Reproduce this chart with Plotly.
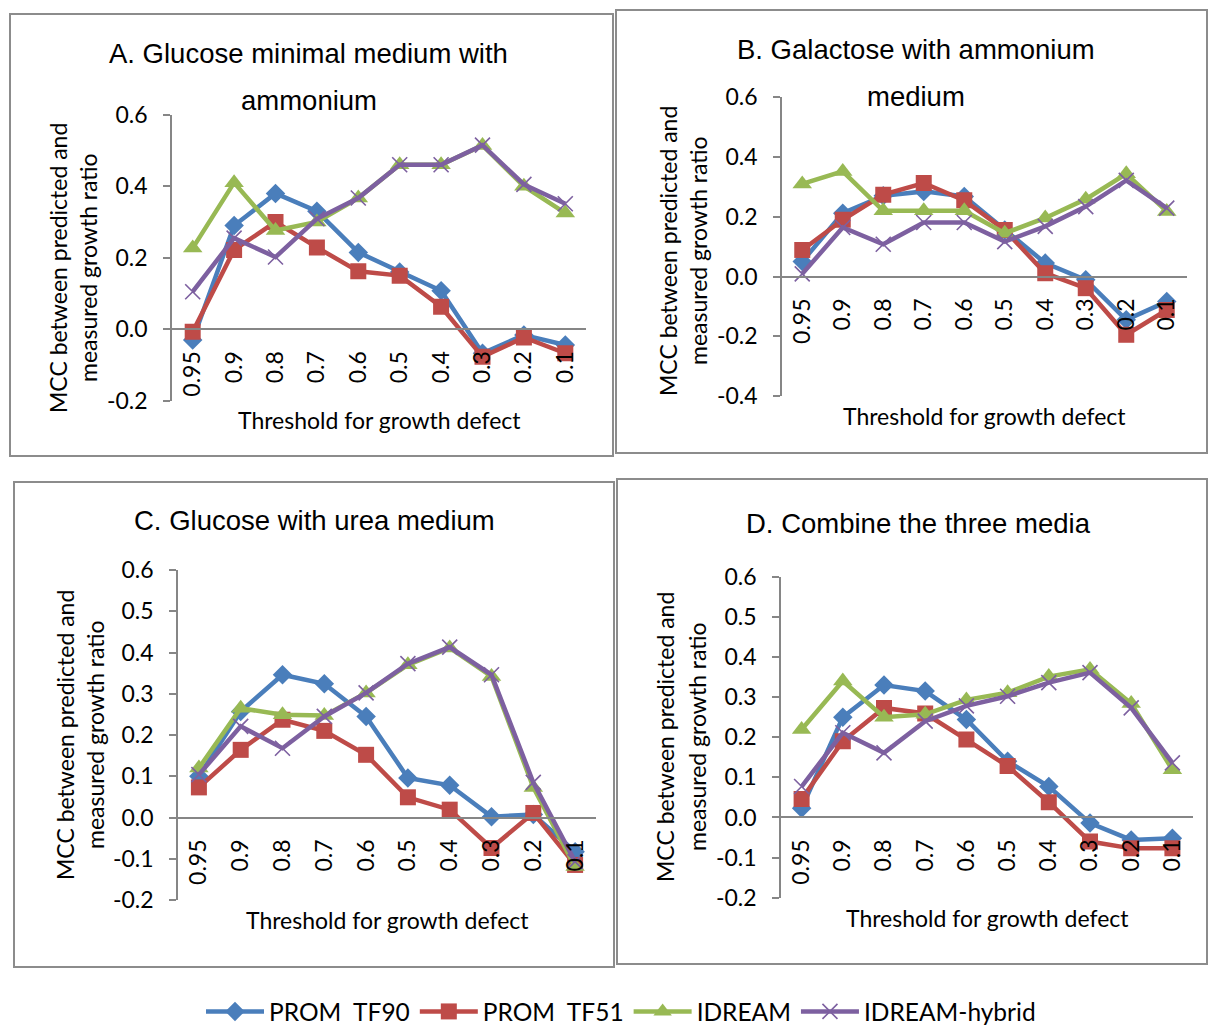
import plotly.graph_objects as go

W, H = 1208, 1025

thresholds = ["0.95", "0.9", "0.8", "0.7", "0.6", "0.5", "0.4", "0.3", "0.2", "0.1"]
series_names = ["PROM  TF90", "PROM  TF51", "IDREAM", "IDREAM-hybrid"]

# A. Glucose minimal medium with ammonium
a_prom90 = [-0.03, 0.29, 0.38, 0.33, 0.215, 0.16, 0.108, -0.067, -0.016, -0.044]
a_prom51 = [-0.007, 0.222, 0.30, 0.229, 0.162, 0.15, 0.063, -0.077, -0.023, -0.067]
a_idream = [0.227, 0.41, 0.276, 0.30, 0.367, 0.46, 0.46, 0.514, 0.40, 0.325]
a_hybrid = [0.105, 0.255, 0.202, 0.309, 0.367, 0.46, 0.46, 0.515, 0.405, 0.351]

# B. Galactose with ammonium medium
b_prom90 = [0.05, 0.212, 0.27, 0.285, 0.268, 0.156, 0.045, -0.011, -0.145, -0.084]
b_prom51 = [0.089, 0.19, 0.274, 0.313, 0.255, 0.156, 0.011, -0.039, -0.195, -0.112]
b_idream = [0.31, 0.352, 0.22, 0.22, 0.22, 0.145, 0.196, 0.259, 0.344, 0.218]
b_hybrid = [0.009, 0.164, 0.108, 0.181, 0.181, 0.117, 0.168, 0.234, 0.322, 0.229]

# C. Glucose with urea medium
c_prom90 = [0.10, 0.257, 0.346, 0.324, 0.245, 0.096, 0.078, 0.002, 0.007, -0.083]
c_prom51 = [0.073, 0.164, 0.237, 0.21, 0.152, 0.049, 0.019, -0.074, 0.011, -0.115]
c_idream = [0.12, 0.265, 0.249, 0.247, 0.302, 0.37, 0.411, 0.342, 0.073, -0.119]
c_hybrid = [0.104, 0.221, 0.168, 0.245, 0.302, 0.373, 0.413, 0.346, 0.085, -0.107]

# D. Combine the three media
d_prom90 = [0.023, 0.25, 0.33, 0.315, 0.244, 0.14, 0.077, -0.014, -0.056, -0.052]
d_prom51 = [0.046, 0.19, 0.273, 0.259, 0.194, 0.128, 0.038, -0.06, -0.077, -0.077]
d_idream = [0.219, 0.34, 0.25, 0.257, 0.293, 0.311, 0.351, 0.369, 0.284, 0.119]
d_hybrid = [0.077, 0.211, 0.161, 0.24, 0.278, 0.302, 0.336, 0.361, 0.273, 0.136]

title_lines = [
    ["A. Glucose minimal medium with", "ammonium"],
    ["B. Galactose with ammonium", "medium"],
    ["C. Glucose with urea medium"],
    ["D. Combine the three media"],
]
ytitle_lines = ["MCC between predicted and", "measured growth ratio"]
xtitle = "Threshold for growth defect"

ytick_vals_02 = [-0.4, -0.2, 0.0, 0.2, 0.4, 0.6]
ytick_text_02 = ["-0.4", "-0.2", "0.0", "0.2", "0.4", "0.6"]
ytick_vals_01 = [-0.2, -0.1, 0.0, 0.1, 0.2, 0.3, 0.4, 0.5, 0.6]
ytick_text_01 = ["-0.2", "-0.1", "0.0", "0.1", "0.2", "0.3", "0.4", "0.5", "0.6"]

COLORS = ["#4A7EBB", "#BE4B48", "#98B954", "#7D60A0"]
GRID = "#868686"
BODY_FONT = "Lato"
TITLE_FONT = "Liberation Sans"


def px(x):
    return x / W


def py(y):
    return 1 - y / H


# pixel layout for each panel
panels = [
    dict(data=[a_prom90, a_prom51, a_idream, a_hybrid], x0=172, x1=586, ytop=114.7, ybot=400.8,
         yr=[-0.2, 0.6], step=0.2, box=(10, 14, 613, 456),
         titles=[(308, 53), (309, 101)], ytl=[(58, 268), (88, 268)], xt=(379, 420)),
    dict(data=[b_prom90, b_prom51, b_idream, b_hybrid], x0=782, x1=1187, ytop=97.3, ybot=396,
         yr=[-0.4, 0.6], step=0.2, box=(616, 10, 1207, 453),
         titles=[(916, 49), (916, 97)], ytl=[(668, 251), (698, 251)], xt=(984, 416)),
    dict(data=[c_prom90, c_prom51, c_idream, c_hybrid], x0=178, x1=596, ytop=570, ybot=900,
         yr=[-0.2, 0.6], step=0.1, box=(14, 482, 614, 967),
         titles=[(314, 520)], ytl=[(65, 735), (95, 735)], xt=(388, 920)),
    dict(data=[d_prom90, d_prom51, d_idream, d_hybrid], x0=781, x1=1193, ytop=576.7, ybot=897.7,
         yr=[-0.2, 0.6], step=0.1, box=(617, 479, 1207, 964),
         titles=[(918, 523)], ytl=[(665, 737), (697, 737)], xt=(987, 918)),
]

marker_styles = [
    dict(symbol="diamond", size=15),
    dict(symbol="square", size=16),
    dict(symbol="triangle-up", size=17),
    dict(symbol="x-thin", size=15),
]

fig = go.Figure()
layout = dict(
    width=W, height=H, margin=dict(l=0, r=0, t=0, b=0, autoexpand=False),
    paper_bgcolor="white", plot_bgcolor="white",
    showlegend=True,
    font=dict(family=BODY_FONT, size=23, color="black"),
)
annotations = []
shapes = []

for i, p in enumerate(panels):
    n = "" if i == 0 else str(i + 1)
    xa, ya = "x" + n, "y" + n
    for j, (vals, name) in enumerate(zip(p["data"], series_names)):
        ms = dict(marker_styles[j])
        if ms["symbol"] == "x-thin":
            ms["line"] = dict(color=COLORS[j], width=1.6)
        fig.add_trace(go.Scatter(
            x=thresholds, y=vals, name=name, mode="lines+markers",
            line=dict(color=COLORS[j], width=4.5),
            marker=dict(color=COLORS[j], **ms),
            xaxis=xa, yaxis=ya, showlegend=(i == 0), legendgroup=name,
        ))
    dom_y = [py(p["ybot"]), py(p["ytop"])]
    y0, y1 = p["yr"]
    zero_pos = dom_y[0] + (0 - y0) / (y1 - y0) * (dom_y[1] - dom_y[0])
    if p["step"] == 0.2:
        tv = [v for v in ytick_vals_02 if y0 - 1e-9 <= v <= y1 + 1e-9]
        tt = [t for v, t in zip(ytick_vals_02, ytick_text_02) if y0 - 1e-9 <= v <= y1 + 1e-9]
    else:
        tv, tt = ytick_vals_01, ytick_text_01
    layout["xaxis" + n] = dict(
        domain=[px(p["x0"]), px(p["x1"])], anchor="free", position=zero_pos,
        type="category", range=[-0.5, 9.5], showgrid=False, zeroline=False,
        showline=True, linecolor=GRID, linewidth=1.5, ticks="",
        tickangle=-90, ticklabelstandoff=12, tickfont=dict(family=BODY_FONT, size=23),
    )
    layout["yaxis" + n] = dict(
        domain=dom_y, anchor=xa, range=p["yr"], showgrid=False, zeroline=False,
        showline=True, linecolor=GRID, linewidth=1.5, ticks="outside", ticklen=7,
        tickcolor=GRID, tickwidth=1.5, tickvals=tv, ticktext=tt,
        ticklabelstandoff=11, tickfont=dict(family=BODY_FONT, size=23),
    )
    # chart frame
    bx0, by0, bx1, by1 = p["box"]
    shapes.append(dict(type="rect", xref="paper", yref="paper",
                       x0=px(bx0), x1=px(bx1), y0=py(by1), y1=py(by0),
                       line=dict(color="#8C8C8C", width=2), layer="below"))
    # chart title
    for line_txt, (tx, ty) in zip(title_lines[i], p["titles"]):
        annotations.append(dict(text=line_txt, x=px(tx), y=py(ty), xref="paper", yref="paper",
                                xanchor="center", yanchor="middle", showarrow=False,
                                font=dict(family=TITLE_FONT, size=27.5, color="black")))
    # axis titles
    for line_txt, (tx, ty) in zip(ytitle_lines, p["ytl"]):
        annotations.append(dict(text=line_txt, x=px(tx), y=py(ty), xref="paper", yref="paper",
                                xanchor="center", yanchor="middle", showarrow=False,
                                textangle=-90, font=dict(family=BODY_FONT, size=23)))
    annotations.append(dict(text=xtitle, x=px(p["xt"][0]), y=py(p["xt"][1]), xref="paper",
                            yref="paper", xanchor="center", yanchor="middle", showarrow=False,
                            font=dict(family=BODY_FONT, size=23)))

layout["annotations"] = annotations
layout["shapes"] = shapes
layout["legend"] = dict(orientation="h", x=px(621), y=py(1034), xanchor="center", yanchor="bottom",
                        font=dict(family=BODY_FONT, size=24.5), itemwidth=58,
                        tracegroupgap=0, borderwidth=0, bgcolor="rgba(0,0,0,0)")
fig.update_layout(**layout)
fig.write_html("out.html")
